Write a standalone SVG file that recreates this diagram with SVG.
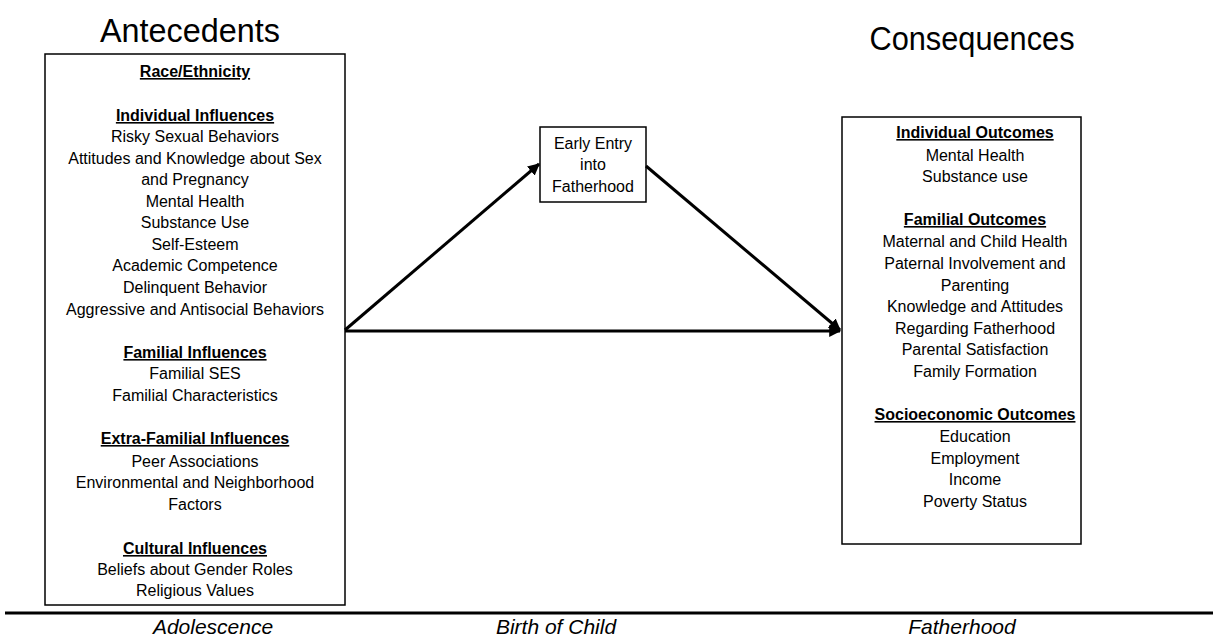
<svg xmlns="http://www.w3.org/2000/svg" width="1213" height="639" viewBox="0 0 1213 639">
<style>
.t{font-family:"Liberation Sans",Arial,sans-serif;font-size:16px;fill:#000;text-anchor:middle}
.h{font-weight:bold;text-decoration:underline}
.title{font-family:"Liberation Sans",Arial,sans-serif;font-size:33px;fill:#000;text-anchor:middle}
.lab{font-family:"Liberation Sans",Arial,sans-serif;font-size:21px;font-style:italic;fill:#000;text-anchor:middle}
.box{fill:#fff;stroke:#000;stroke-width:1.5}
.c{stroke:#000;stroke-width:3;fill:none}
</style>
<defs>
<marker id="ah" viewBox="0 0 10 10" refX="9" refY="5" markerWidth="4" markerHeight="4" orient="auto" markerUnits="strokeWidth">
<path d="M0,0 L10,5 L0,10 z" fill="#000"/>
</marker>
</defs>
<rect width="1213" height="639" fill="#fff"/>
<text class="title" x="190" y="42" textLength="180" lengthAdjust="spacingAndGlyphs">Antecedents</text>
<text class="title" x="972" y="50" textLength="205" lengthAdjust="spacingAndGlyphs">Consequences</text>

<g id="antecedents">
<rect class="box" x="45" y="54" width="300" height="551"/>
<text class="t h" x="195" y="77">Race/Ethnicity</text>
<text class="t h" x="195" y="121">Individual Influences</text>
<text class="t" x="195" y="142">Risky Sexual Behaviors</text>
<text class="t" x="195" y="164">Attitudes and Knowledge about Sex</text>
<text class="t" x="195" y="185">and Pregnancy</text>
<text class="t" x="195" y="207">Mental Health</text>
<text class="t" x="195" y="228">Substance Use</text>
<text class="t" x="195" y="250">Self-Esteem</text>
<text class="t" x="195" y="271">Academic Competence</text>
<text class="t" x="195" y="293">Delinquent Behavior</text>
<text class="t" x="195" y="315">Aggressive and Antisocial Behaviors</text>
<text class="t h" x="195" y="358">Familial Influences</text>
<text class="t" x="195" y="379">Familial SES</text>
<text class="t" x="195" y="401">Familial Characteristics</text>
<text class="t h" x="195" y="444">Extra-Familial Influences</text>
<text class="t" x="195" y="467">Peer Associations</text>
<text class="t" x="195" y="488">Environmental and Neighborhood</text>
<text class="t" x="195" y="510">Factors</text>
<text class="t h" x="195" y="554">Cultural Influences</text>
<text class="t" x="195" y="575">Beliefs about Gender Roles</text>
<text class="t" x="195" y="596">Religious Values</text>
</g>

<g id="early-entry">
<rect class="box" x="540" y="127" width="106" height="75"/>
<text class="t" x="593" y="149">Early Entry</text>
<text class="t" x="593" y="170">into</text>
<text class="t" x="593" y="192">Fatherhood</text>
</g>

<g id="consequences">
<rect class="box" x="842" y="117" width="239" height="427"/>
<text class="t h" x="975" y="138">Individual Outcomes</text>
<text class="t" x="975" y="161">Mental Health</text>
<text class="t" x="975" y="182">Substance use</text>
<text class="t h" x="975" y="225">Familial Outcomes</text>
<text class="t" x="975" y="247">Maternal and Child Health</text>
<text class="t" x="975" y="269">Paternal Involvement and</text>
<text class="t" x="975" y="291">Parenting</text>
<text class="t" x="975" y="312">Knowledge and Attitudes</text>
<text class="t" x="975" y="334">Regarding Fatherhood</text>
<text class="t" x="975" y="355">Parental Satisfaction</text>
<text class="t" x="975" y="377">Family Formation</text>
<text class="t h" x="975" y="420">Socioeconomic Outcomes</text>
<text class="t" x="975" y="442">Education</text>
<text class="t" x="975" y="464">Employment</text>
<text class="t" x="975" y="485">Income</text>
<text class="t" x="975" y="507">Poverty Status</text>
</g>

<g id="connectors">
<line class="c" x1="345" y1="330" x2="539" y2="164" marker-end="url(#ah)"/>
<line class="c" x1="646" y1="166" x2="840" y2="330" marker-end="url(#ah)"/>
<line class="c" x1="345" y1="331" x2="840" y2="331" marker-end="url(#ah)"/>
</g>

<g id="timeline">
<line x1="5" y1="613" x2="1213" y2="613" stroke="#000" stroke-width="3"/>
<text class="lab" x="213" y="634">Adolescence</text>
<text class="lab" x="556" y="634">Birth of Child</text>
<text class="lab" x="962" y="634">Fatherhood</text>
</g>
</svg>
